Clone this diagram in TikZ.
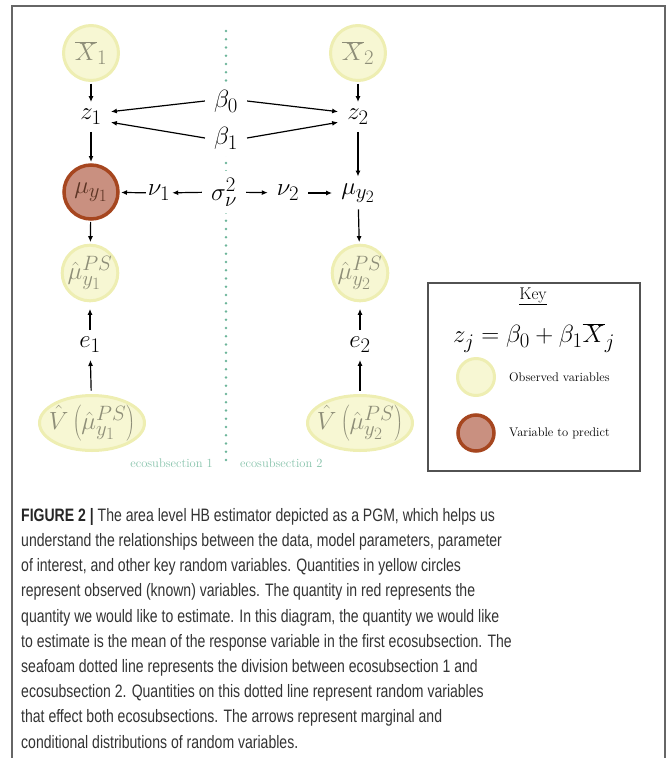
\documentclass[tikz,border=0pt]{standalone}
\usepackage{fontspec}
\newfontfamily\capfont[FakeStretch=0.78]{Liberation Sans}
\usetikzlibrary{shapes.geometric,arrows.meta}
% large sub/superscripts for the graph labels and the key formula
\DeclareMathSizes{24}{24}{20}{16}
\DeclareMathSizes{27}{27}{22.5}{18}
\definecolor{obsfill}{HTML}{F7F7D3}
\definecolor{obsdraw}{HTML}{EEEEB2}
\definecolor{obstext}{HTML}{8E8E78}
\definecolor{predfill}{HTML}{C99080}
\definecolor{preddraw}{HTML}{A6461F}
\definecolor{predtext}{HTML}{5C3424}
\definecolor{seafoam}{HTML}{6DB59A}
\definecolor{seafoamtext}{HTML}{86C2AA}
\definecolor{framegray}{HTML}{666666}
\definecolor{captext}{HTML}{333333}
\begin{document}
\begin{tikzpicture}[x=1pt,y=-1pt,
  mathsize/.style={font=\fontsize{24}{28}\selectfont},
  var/.style={mathsize, inner xsep=9pt, inner ysep=7pt},
  obs/.style={circle, mathsize, fill=obsfill, draw=obsdraw, line width=3pt,
    minimum size=55pt, inner sep=0pt, text=obstext, outer sep=3pt},
  obsoval/.style={ellipse, mathsize, fill=obsfill, draw=obsdraw, line width=3pt,
    minimum width=105pt, minimum height=55pt, inner xsep=-6pt, inner ysep=0pt,
    text=obstext, outer sep=5pt},
  pred/.style={circle, mathsize, fill=predfill, draw=preddraw, line width=3.5pt,
    minimum size=54pt, inner sep=0pt, text=predtext, outer sep=3pt},
  arr/.style={-{Latex[length=6pt,width=5pt]}, line width=1.2pt},
  smalltext/.style={font=\fontsize{12.5}{14}\selectfont, inner sep=0pt},
]
\useasboundingbox (0,0) rectangle (667,758);

% outer frame
\draw[framegray, line width=1.8pt] (12,762) -- (12,6) -- (665,6) -- (665,762);

% divider between the two ecosubsections
\draw[seafoam, line width=2.6pt, line cap=round, dash pattern=on 0pt off 8.25pt]
  (226,31) -- (226,460);

% observed inputs
\node[obs] (x1) at (91,53) {$\overline{X}_1$};
\node[obs] (x2) at (358,53) {$\overline{X}_2$};

% linear predictors and shared coefficients
\node[var] (z1) at (91,117) {$z_1$};
\node[var] (z2) at (358,117) {$z_2$};
\node[var, fill=white] (b0) at (226,101) {$\beta_0$};
\node[var, fill=white] (b1) at (226,138) {$\beta_1$};

% means and random effects
\node[pred] (mu1) at (91,192) {$\mu_{y_1}$};
\node[var, inner xsep=2pt] (nu1) at (159,193) {$\nu_1$};
\node[var, fill=white] (sig) at (224,192) {$\sigma^2_\nu$};
\node[var] (nu2) at (288,193) {$\nu_2$};
\node[var] (mu2) at (358,193) {$\mu_{y_2}$};

% direct estimates, errors and their variances
\node[obs] (mh1) at (90,273) {$\hat{\mu}^{PS}_{y_1}$};
\node[obs] (mh2) at (360,273) {$\hat{\mu}^{PS}_{y_2}$};
\node[var] (e1) at (90,345) {$e_1$};
\node[var] (e2) at (360,345) {$e_2$};
\node[obsoval] (v1) at (92,423) {$\hat{V}\left(\hat{\mu}^{PS}_{y_1}\right)$};
\node[obsoval] (v2) at (360,423) {$\hat{V}\left(\hat{\mu}^{PS}_{y_2}\right)$};

% connectors
\draw[arr] (x1) -- (z1);
\draw[arr] (x2) -- (z2);
\draw[arr] (b0.west) -- (z1.15);
\draw[arr] (b1.west) -- (z1.-15);
\draw[arr] (b0.east) -- (z2.165);
\draw[arr] (b1.east) -- (z2.195);
\draw[arr] (z1) -- (mu1);
\draw[arr] (z2) -- (mu2);
\draw[arr] (sig) -- (nu1);
\draw[arr] (nu1) -- (mu1);
\draw[arr] (sig) -- (nu2);
\draw[arr] (nu2) -- (mu2);
\draw[arr] (mu1) -- (mh1);
\draw[arr] (mu2) -- (mh2);
\draw[arr, shorten >=5pt] (e1) -- (mh1);
\draw[arr, shorten >=5pt] (e2) -- (mh2);
\draw[arr] (v1) -- (e1);
\draw[arr] (v2) -- (e2);

% section labels
\node[smalltext, text=seafoamtext, anchor=base east] (lab1) at (213,467) {ecosubsection 1};
\node[smalltext, text=seafoamtext, anchor=base west] (lab2) at (240,467) {ecosubsection 2};

% key
\draw[framegray!80!black, line width=1.8pt] (428,283) rectangle (640,471);
\node[font=\fontsize{17}{20}\selectfont, inner sep=0pt] (keyt) at (533,296) {\underline{Key}};
\node[font=\fontsize{27}{32}\selectfont, inner sep=0pt] (keyf) at (534,338) {$z_j = \beta_0 + \beta_1\overline{X}_j$};
\node[obs, minimum size=37pt, outer sep=0pt] (kobs) at (476,377) {};
\node[pred, minimum size=36pt, outer sep=0pt] (kpred) at (476,433) {};
\node[smalltext, anchor=west] (kobst) at (509,377) {Observed variables};
\node[smalltext, anchor=west] (kpredt) at (509,433) {Variable to predict};

% caption (base anchor sits on the last line)
\node[anchor=base west, inner sep=0pt, align=left, text=captext,
  font=\capfont\fontsize{18}{25.2}\selectfont] (cap) at (21,748)
{{\bfseries\color{black!85}FIGURE 2 |} The area level HB estimator depicted as a PGM, which helps us\\
understand the relationships between the data, model parameters, parameter\\
of interest, and other key random variables. Quantities in yellow circles\\
represent observed (known) variables. The quantity in red represents the\\
quantity we would like to estimate. In this diagram, the quantity we would like\\
to estimate is the mean of the response variable in the first ecosubsection. The\\
seafoam dotted line represents the division between ecosubsection 1 and\\
ecosubsection 2. Quantities on this dotted line represent random variables\\
that effect both ecosubsections. The arrows represent marginal and\\
conditional distributions of random variables.};
\end{tikzpicture}
\end{document}
